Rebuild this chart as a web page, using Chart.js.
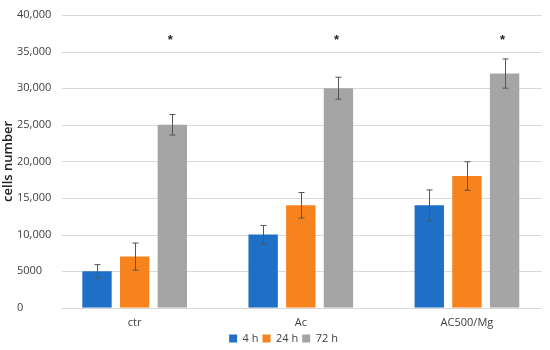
<!DOCTYPE html>
<html>
<head>
<meta charset="utf-8">
<script src="https://cdn.jsdelivr.net/npm/chart.js@4"></script>
<style>
  body { margin: 0; background: #fff; overflow: hidden; }
  #wrap { width: 550px; height: 354px; }
</style>
</head>
<body>
<div id="wrap"><canvas id="chart"></canvas></div>
<script>
// data
const groups = ['ctr', 'Ac', 'AC500/Mg'];
const seriesNames = ['4 h', '24 h', '72 h'];
const values4h = [5000, 10000, 14000];
const values24h = [7000, 14000, 18000];
const values72h = [25000, 30000, 32000];
const err4h = [900, 1250, 2100];
const err24h = [1850, 1750, 1950];
const err72h = [1400, 1500, 2000];
const starLevel = 37000;
const yTickLabels = ['0', '5000', '10,0000', '15,000', '20,000', '25,000', '30,000', '35,000', '40,000'];
const yTitle = 'cells number';

const colors = ['#1F6FC6', '#F7831F', '#A5A5A5'];
const errors = [err4h, err24h, err72h];

// gridlines are a bit narrower than the bar area, like in the original
const grid = {
    id: 'grid',
    beforeDatasetsDraw(chart) {
        const ctx = chart.ctx;
        const y = chart.scales.y;
        ctx.save();
        ctx.strokeStyle = '#d9d9d9';
        ctx.lineWidth = 1;
        y.ticks.forEach(t => {
            const py = Math.round(y.getPixelForValue(t.value)) + 0.5;
            ctx.beginPath();
            ctx.moveTo(62, py);
            ctx.lineTo(542, py);
            ctx.stroke();
        });
        ctx.restore();
    }
};

// error bars, asterisks over 72 h bars, y axis title
const extras = {
    id: 'extras',
    afterDatasetsDraw(chart) {
        const ctx = chart.ctx;
        const y = chart.scales.y;
        ctx.save();
        ctx.strokeStyle = '#555';
        ctx.lineWidth = 1;
        chart.data.datasets.forEach((ds, i) => {
            const meta = chart.getDatasetMeta(i);
            meta.data.forEach((bar, j) => {
                const v = ds.data[j];
                const e = errors[i][j];
                const top = y.getPixelForValue(v + e);
                const bot = y.getPixelForValue(v - e);
                const x = Math.round(bar.x) + 0.5;
                ctx.beginPath();
                ctx.moveTo(x, top); ctx.lineTo(x, bot);
                ctx.moveTo(x - 3, top); ctx.lineTo(x + 3, top);
                ctx.moveTo(x - 3, bot); ctx.lineTo(x + 3, bot);
                ctx.stroke();
            });
        });
        const meta72 = chart.getDatasetMeta(2);
        ctx.fillStyle = '#222';
        ctx.font = 'bold 13px "Liberation Sans", Arial, sans-serif';
        ctx.textAlign = 'center';
        ctx.textBaseline = 'middle';
        meta72.data.forEach(bar => {
            ctx.fillText('*', bar.x - 2, y.getPixelForValue(starLevel) + 3);
        });

        // axis title
        ctx.translate(8, (chart.chartArea.top + chart.chartArea.bottom) / 2);
        ctx.rotate(-Math.PI / 2);
        ctx.font = '600 13px "Open Sans", sans-serif';
        ctx.fillText(yTitle, 0, 0);
        ctx.restore();
    }
};

new Chart(document.getElementById('chart'), {
    type: 'bar',
    data: {
        labels: groups,
        datasets: [values4h, values24h, values72h].map((d, i) => ({
            label: seriesNames[i],
            data: d,
            backgroundColor: colors[i],
            categoryPercentage: 0.68,
            barPercentage: 0.78
        }))
    },
    options: {
        responsive: true,
        maintainAspectRatio: false,
        animation: false,
        layout: { padding: { top: 15, right: 0, left: 17, bottom: 0 } },
        plugins: {
            legend: {
                position: 'bottom',
                labels: {
                    boxWidth: 8, boxHeight: 8, padding: 4,
                    color: '#404040',
                    font: { family: '"Open Sans", sans-serif', size: 11 }
                }
            },
            tooltip: { enabled: false }
        },
        scales: {
            x: {
                grid: { display: false },
                border: { display: false },
                ticks: { color: '#404040', font: { family: '"Open Sans", sans-serif', size: 11 }, padding: 0 }
            },
            y: {
                min: 0, max: 40000,
                ticks: {
                    stepSize: 5000,
                    color: '#404040',
                    padding: -7,
                    crossAlign: 'far',
                    font: { family: '"Open Sans", sans-serif', size: 11 },
                    callback: v => yTickLabels[Math.round(v / 5000)]
                },
                grid: { display: false },
                border: { display: false }
            }
        }
    },
    plugins: [grid, extras]
});
</script>
</body>
</html>
